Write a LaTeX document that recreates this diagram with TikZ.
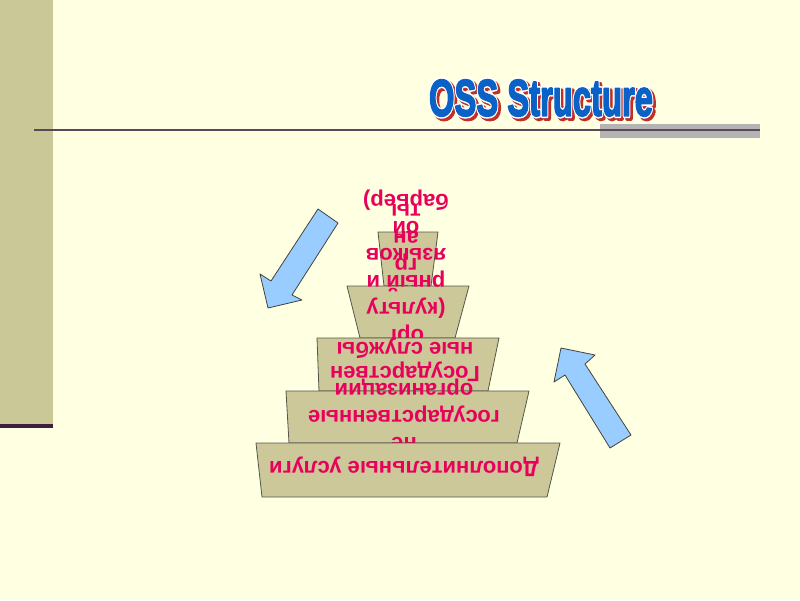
\documentclass[tikz,border=0pt]{standalone}
\usepackage{fontspec}
\setmainfont{Liberation Sans}
\usepackage{graphicx}
\definecolor{bgc}{HTML}{FFFFE2}
\definecolor{barc}{HTML}{CAC896}
\definecolor{barline}{HTML}{3E1F3E}
\definecolor{rulec}{HTML}{5A4858}
\definecolor{grayrect}{HTML}{B4B4B4}
\definecolor{trapfill}{HTML}{CCC899}
\definecolor{trapline}{HTML}{55554A}
\definecolor{txtc}{HTML}{E8005A}
\definecolor{arrowfill}{HTML}{99CCFF}
\definecolor{titleblue}{HTML}{0A62C6}
\definecolor{titlered}{HTML}{C0302A}
% title text with a given PDF stroke setting
\newcommand\osstitle[1]{\resizebox{224pt}{36pt}{\special{pdf:literal direct q #1}\bfseries OSS Structure\special{pdf:literal direct Q}}}
\tikzset{
  trapbox/.style={fill=trapfill, draw=trapline, line width=0.8pt, line join=round},
  arrowshape/.style={fill=arrowfill, draw=trapline!80!black, line width=0.8pt, line join=round},
  ptext/.style={text=txtc, font=\bfseries\fontsize{22}{27}\selectfont, align=center, rotate=180, inner sep=0pt},
  titletext/.style={inner sep=0pt}
}
\begin{document}
\begin{tikzpicture}[x=1pt,y=-1pt]
\useasboundingbox (0,0) rectangle (800,600);
\fill[bgc] (0,0) rectangle (800,600);
% left bar
\fill[barc] (0,0) rectangle (53,424);
\fill[barline] (0,424) rectangle (53,428);
% header rule
\fill[grayrect] (600,124) rectangle (760,138);
\draw[rulec, line width=2pt] (34,130) -- (760,130);
% title: red shadow, white rim, blue letters
\node[titletext, text=titlered] (titleshadow) at (543.5,100.5) {\osstitle{2 Tr 0.753 0.188 0.165 RG 1.0 w 1 j}};
\node[titletext, text=white] (titlerim) at (541,98) {\osstitle{2 Tr 1 1 1 RG 0.95 w 1 j}};
\node[titletext, text=titleblue] (title) at (541,98) {\osstitle{2 Tr 0.039 0.384 0.776 RG 0.35 w 1 j}};
% pyramid (top drawn first)
\path[trapbox] (378,232) -- (438,232) -- (431,286) -- (384,286) -- cycle;
\node[ptext] (t5) at (406,253) {Ми\\гр\\ан\\ты};
\path[trapbox] (347,286) -- (469,286) -- (455,338) -- (360,338) -- cycle;
\node[ptext] (t4) at (406,266) {орг\\(культу\\рный и\\языков\\ой\\барьер)};
\path[trapbox] (317,338) -- (499,338) -- (488,391) -- (319,391) -- cycle;
\node[ptext, font=\bfseries\fontsize{22}{24}\selectfont] (t3) at (405,360) {Государствен\\ные службы};
\path[trapbox] (286,391) -- (529,391) -- (517,443) -- (289,443) -- cycle;
\node[ptext] (t2) at (404,414) {не\\государственные\\организации};
\path[trapbox] (256,443) -- (560,443) -- (547,497) -- (262,497) -- cycle;
\node[ptext] (t1) at (404,467) {Дополнительные услуги};
% arrows
\path[arrowshape] (318,209) -- (338,223) -- (292,295) -- (302,300) -- (268,308) -- (260,274) -- (271,281) -- cycle;
\path[arrowshape] (561,348) -- (595,355) -- (585,364) -- (631,435) -- (610,448) -- (565,375) -- (554,382) -- cycle;
\end{tikzpicture}
\end{document}
